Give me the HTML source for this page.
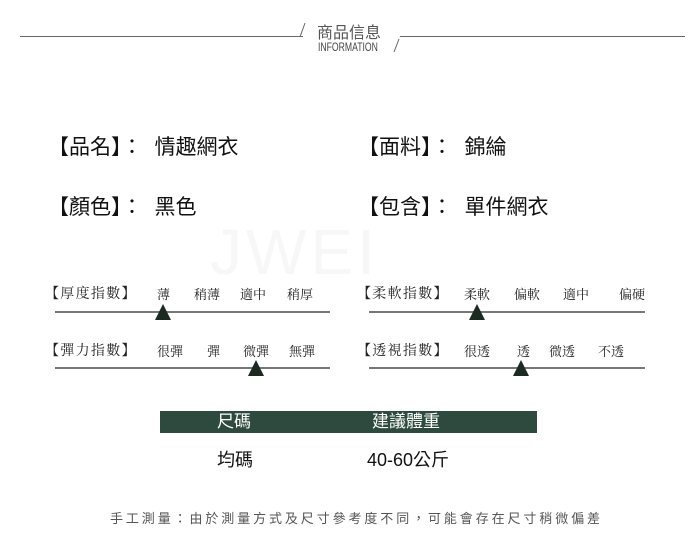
<!DOCTYPE html>
<html><head><meta charset="utf-8"><style>
body{margin:0;width:700px;height:552px;background:#fff;position:relative;overflow:hidden;font-family:"Liberation Sans","Noto Sans CJK TC",sans-serif;}
.a{position:absolute;white-space:nowrap;}
.big{font-size:21px;color:#111;}
.sm{font-size:13px;color:#222;font-family:"Liberation Serif","Noto Serif CJK SC",serif;}
.lb{font-size:14px;letter-spacing:1.3px;}
.ln{position:absolute;height:2px;background:#777;}
.tri{position:absolute;width:0;height:0;border-left:8px solid transparent;border-right:8px solid transparent;border-bottom:16px solid #1c2a22;}
</style></head><body>
<div class="ln" style="left:20px;top:36px;width:283px;height:1px;background:#666"></div>
<div class="ln" style="left:400px;top:36px;width:285px;height:1px;background:#666"></div>
<svg class="a" style="left:0;top:0" width="700" height="60"><line x1="300" y1="37" x2="305" y2="23" stroke="#666"/><line x1="394" y1="52" x2="399" y2="39" stroke="#666"/></svg>
<div class="a" style="left:317px;top:19px;font-size:16px;color:#555">商品信息</div>
<div class="a" style="left:318px;top:40px;font-size:12px;color:#444;transform:scaleX(0.72);transform-origin:left">INFORMATION</div>
<div class="a" style="left:210px;top:215px;font-size:64px;color:#f7f7f7;letter-spacing:4px">JWEI</div>
<div class="a big" style="left:48px;top:131px">【品名】：<span style="margin-left:12px">情趣網衣</span></div>
<div class="a big" style="left:358px;top:131px">【面料】：<span style="margin-left:12px">錦綸</span></div>
<div class="a big" style="left:48px;top:191px">【顏色】：<span style="margin-left:12px">黑色</span></div>
<div class="a big" style="left:358px;top:191px">【包含】：<span style="margin-left:12px">單件網衣</span></div>
<div class="a sm lb" style="left:45px;top:283px">【厚度指數】</div>
<div class="a sm" style="left:157px;top:284px">薄</div><div class="a sm" style="left:194px;top:284px">稍薄</div><div class="a sm" style="left:240px;top:284px">適中</div><div class="a sm" style="left:287px;top:284px">稍厚</div>
<div class="ln" style="left:55px;top:311px;width:275px"></div><div class="tri" style="left:155px;top:304px"></div>
<div class="a sm lb" style="left:45px;top:340px">【彈力指數】</div>
<div class="a sm" style="left:157px;top:341px">很彈</div><div class="a sm" style="left:207px;top:341px">彈</div><div class="a sm" style="left:243px;top:341px">微彈</div><div class="a sm" style="left:289px;top:341px">無彈</div>
<div class="ln" style="left:55px;top:367px;width:275px"></div><div class="tri" style="left:248px;top:360px"></div>
<div class="a sm lb" style="left:357px;top:283px">【柔軟指數】</div>
<div class="a sm" style="left:464px;top:284px">柔軟</div><div class="a sm" style="left:514px;top:284px">偏軟</div><div class="a sm" style="left:563px;top:284px">適中</div><div class="a sm" style="left:619px;top:284px">偏硬</div>
<div class="ln" style="left:369px;top:311px;width:276px"></div><div class="tri" style="left:469px;top:304px"></div>
<div class="a sm lb" style="left:357px;top:340px">【透視指數】</div>
<div class="a sm" style="left:464px;top:341px">很透</div><div class="a sm" style="left:517px;top:341px">透</div><div class="a sm" style="left:549px;top:341px">微透</div><div class="a sm" style="left:598px;top:341px">不透</div>
<div class="ln" style="left:369px;top:367px;width:276px"></div><div class="tri" style="left:513px;top:360px"></div>
<div class="a" style="left:160px;top:411px;width:377px;height:22px;background:#2e4a3f"></div>
<div class="a" style="left:217px;top:411px;font-size:17px;color:#fff;line-height:22px">尺碼</div>
<div class="a" style="left:372px;top:411px;font-size:17px;color:#fff;line-height:22px">建議體重</div>
<div class="a" style="left:217px;top:446px;font-size:18px;color:#111">均碼</div>
<div class="a" style="left:367px;top:446px;font-size:18px;color:#111">40-60公斤</div>
<div class="a" style="left:110px;top:508px;font-size:13px;color:#555;letter-spacing:2.9px">手工測量：由於測量方式及尺寸參考度不同，可能會存在尺寸稍微偏差</div>
</body></html>
